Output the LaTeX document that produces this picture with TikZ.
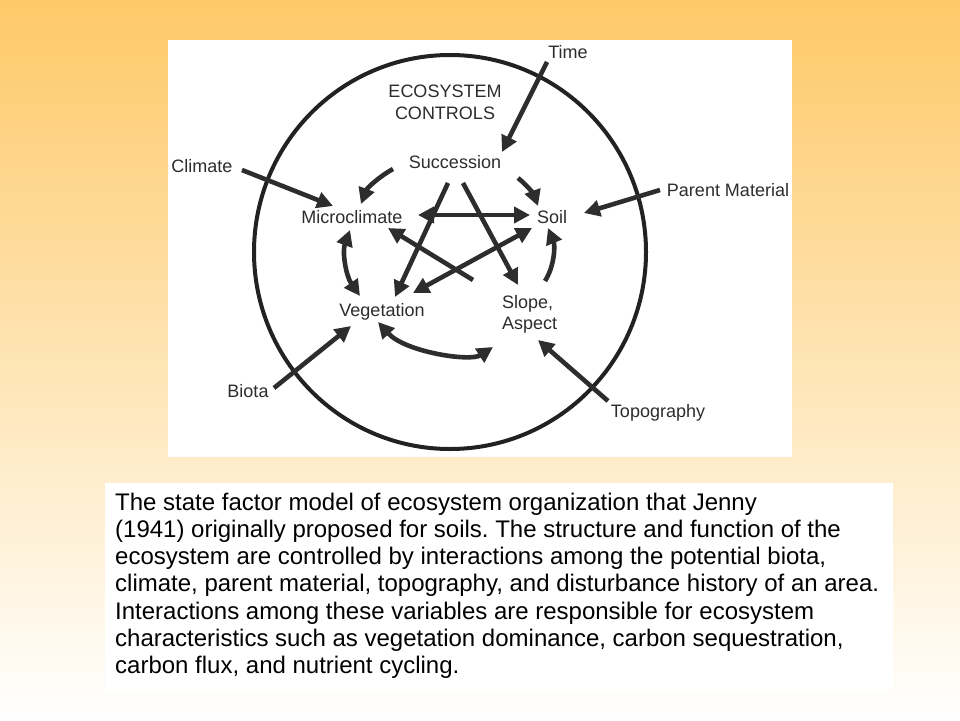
\documentclass[tikz,border=0pt]{standalone}
\usepackage{fontspec}
\setmainfont{Liberation Sans}
\usetikzlibrary{arrows.meta}
\definecolor{bgtop}{RGB}{254,201,104}
\definecolor{ink}{RGB}{45,45,45}
\definecolor{ringc}{RGB}{34,34,34}
\frenchspacing
\tikzset{
  lbl/.style={font=\fontsize{18pt}{21pt}\selectfont, text=ink, inner sep=0pt, anchor=base},
  captxt/.style={font=\fontsize{24pt}{27pt}\selectfont, text=black, inner sep=0pt, anchor=base west},
  arr/.style={draw=ink, line width=4.6pt, -{Triangle[length=16pt,width=16pt]}},
  darr/.style={draw=ink, line width=4.6pt, {Triangle[length=16pt,width=16pt]}-{Triangle[length=16pt,width=16pt]}},
  panel/.style={fill=white, draw=none}
}
\begin{document}
\begin{tikzpicture}[x=1pt,y=-1pt]
\useasboundingbox (0,0) rectangle (960,720);
\shade[top color=bgtop, bottom color=white] (0,0) rectangle (960,720);
\path[panel] (168,40) rectangle (792,457);
\path[panel] (105,483) rectangle (893,690);

% ring
\draw[ringc, line width=4pt] (450,252) ellipse [x radius=196, y radius=197];

% labels
\node[lbl] (time) at (568,58.5) {Time};
\node[lbl] (eco1) at (445,97.5) {ECOSYSTEM};
\node[lbl] (eco2) at (445,119.5) {CONTROLS};
\node[lbl] (succ) at (455,168.5) {Succession};
\node[lbl] (clim) at (202,172.5) {Climate};
\node[lbl] (parent) at (728,196.5) {Parent Material};
\node[lbl] (micro) at (352,223.5) {Microclimate};
\node[lbl] (soil) at (552,223.5) {Soil};
\node[lbl] (veg) at (382,316.5) {Vegetation};
\node[lbl, anchor=base west] (slope) at (502,308) {Slope,};
\node[lbl, anchor=base west] (aspect) at (502,329.5) {Aspect};
\node[lbl] (biota) at (248,397.5) {Biota};
\node[lbl] (topo) at (658,417.5) {Topography};

% connector end points
\coordinate (timeS) at (547,62);   \coordinate (succT) at (502,152);
\coordinate (climS) at (242,170);  \coordinate (microT) at (333,206);
\coordinate (parS) at (660,190);   \coordinate (soilT) at (584,213);
\coordinate (biotaS) at (274,388); \coordinate (vegT) at (351,326);
\coordinate (topoS) at (608,401);  \coordinate (slopeT) at (538,340);

\coordinate (sm1) at (393,169); \coordinate (sm2) at (361,204);
\coordinate (ss1) at (518,178); \coordinate (ss2) at (538,206);
\coordinate (ms1) at (418,215); \coordinate (ms2) at (530,215);
\coordinate (sv1) at (448,183); \coordinate (sv2) at (395,297);
\coordinate (sl1) at (463,183); \coordinate (sl2) at (518,285);
\coordinate (lm1) at (473,280); \coordinate (lm2) at (388,228);
\coordinate (vs1) at (413,293); \coordinate (vs2) at (532,228);
\coordinate (mv1) at (350,230); \coordinate (mv2) at (360,296);
\coordinate (lo1) at (545,281); \coordinate (lo2) at (548,228);
\coordinate (vl1) at (378,322); \coordinate (vl2) at (493,347);

% outer factors
\draw[arr] (timeS) -- (succT);
\draw[arr] (climS) -- (microT);
\draw[arr] (parS) -- (soilT);
\draw[arr] (biotaS) -- (vegT);
\draw[arr] (topoS) -- (slopeT);

% inner interactions
\draw[arr] (sm1) .. controls (380,176) and (367,188) .. (sm2);
\draw[arr] (ss1) .. controls (528,186) and (534,195) .. (ss2);
\draw[darr] (ms1) -- (ms2);
\draw[arr] (sv1) -- (sv2);
\draw[arr] (sl1) -- (sl2);
\draw[arr] (lm1) -- (lm2);
\draw[darr] (vs1) -- (vs2);
\draw[darr] (mv1) .. controls (342,252) and (346,276) .. (mv2);
\draw[arr] (lo1) .. controls (555,265) and (555,245) .. (lo2);
\draw[darr] (vl1) .. controls (405,352) and (470,362) .. (vl2);

% caption
\node[captxt] (cap1) at (115,510) {The state factor model of ecosystem organization that Jenny};
\node[captxt] (cap2) at (115,537.3) {(1941) originally proposed for soils. The structure and function of the};
\node[captxt] (cap3) at (115,564.6) {ecosystem are controlled by interactions among the potential biota,};
\node[captxt] (cap4) at (115,591.9) {climate, parent material, topography, and disturbance history of an area.};
\node[captxt] (cap5) at (115,619.2) {Interactions among these variables are responsible for ecosystem};
\node[captxt] (cap6) at (115,646.5) {characteristics such as vegetation dominance, carbon sequestration,};
\node[captxt] (cap7) at (115,673.8) {carbon flux, and nutrient cycling.};
\end{tikzpicture}
\end{document}
